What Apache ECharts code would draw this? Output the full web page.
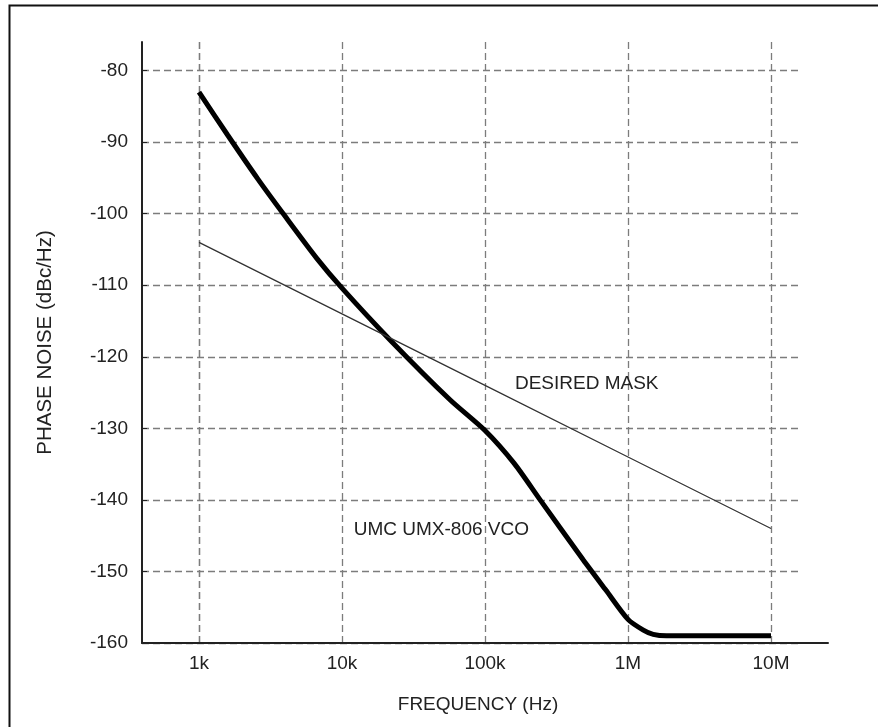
<!DOCTYPE html>
<html><head><meta charset="utf-8">
<script src="https://cdn.jsdelivr.net/npm/echarts@6/dist/echarts.min.js"></script>
<style>html,body{margin:0;padding:0;background:#fff}#c{width:878px;height:727px}</style>
</head><body><div id="c"></div>
<script>
// ---- data ----
const xTickValues = [1e3, 1e4, 1e5, 1e6, 1e7];
const xTickLabels = ['1k', '10k', '100k', '1M', '10M'];
const yMin = -160, yMax = -76, yStep = 10;
const vcoFreq  = [1000, 1585, 2590, 3981, 6640, 10000, 21600, 56900, 100000, 160000, 243000, 487000, 700000, 1000000, 1280000, 1500000, 1860000, 3000000, 10000000];
const vcoNoise = [-83.0, -89.0, -95.2, -100.3, -106.2, -110.4, -117.6, -126.0, -130.3, -134.9, -140.0, -148.4, -152.6, -156.7, -158.2, -158.8, -159.0, -159.0, -159.0];
const maskFreq  = [1000, 10000, 100000, 1000000, 10000000];
const maskNoise = [-104, -114, -124, -134, -144];
const annoText = ['DESIRED MASK', 'UMC UMX-806 VCO'];
const annoFreq = [162000, 203000];
const annoNoise = [-123.7, -144.2];

const FONT = '"Liberation Sans", Arial, sans-serif';
const TXT = '#222';
const chart = echarts.init(document.getElementById('c'), null, {renderer: 'canvas'});
const dash = {type: [7, 4], color: '#7c7c7c', width: 1.3};

chart.setOption({
  animation: false,
  backgroundColor: '#fff',
  graphic: [{
    type: 'rect', left: 7, top: 3, shape: {width: 900, height: 800},
    style: {fill: 'none', stroke: '#111', lineWidth: 2}, silent: true
  }],
  grid: [
    {left: 142, right: 78, top: 42, bottom: 84},
    {left: 199, right: 107, top: 42, bottom: 84},
    {left: 142, right: 50, top: 42, bottom: 84}
  ],
  xAxis: [
    {gridIndex: 0, type: 'value', min: 0, max: 1,
     axisLine: {show: false}, axisTick: {show: false}, axisLabel: {show: false}, splitLine: {show: false},
     name: 'FREQUENCY (Hz)', nameLocation: 'middle', nameGap: 52,
     nameTextStyle: {fontFamily: FONT, fontSize: 19, color: TXT, padding: [0, 0, 0, 14]}},
    {gridIndex: 1, type: 'log', logBase: 10, min: xTickValues[0], max: xTickValues[xTickValues.length - 1],
     axisLine: {show: false}, axisTick: {show: false},
     axisLabel: {fontFamily: FONT, fontSize: 19, color: TXT, margin: 11,
       formatter: v => { const i = xTickValues.findIndex(t => Math.abs(Math.log10(t) - Math.log10(v)) < 1e-6); return i >= 0 ? xTickLabels[i] : ''; }},
     splitLine: {show: true, lineStyle: dash}},
    {gridIndex: 2, type: 'value', min: 0, max: 1,
     axisLine: {show: true, lineStyle: {color: '#222', width: 2}}, axisTick: {show: false},
     axisLabel: {show: false}, splitLine: {show: false}}
  ],
  yAxis: [
    {gridIndex: 0, type: 'value', min: yMin, max: yMax, interval: yStep,
     axisLine: {show: true, lineStyle: {color: '#222', width: 2}},
     axisTick: {show: true, inside: true, length: 5, lineStyle: {color: '#222', width: 1}},
     axisLabel: {fontFamily: FONT, fontSize: 19, color: TXT, margin: 14, showMaxLabel: false},
     splitLine: {show: true, showMaxLine: false, lineStyle: dash},
     name: 'PHASE NOISE (dBc/Hz)', nameLocation: 'middle', nameGap: 86, nameRotate: 90,
     nameTextStyle: {fontFamily: FONT, fontSize: 20.5, color: TXT}},
    {gridIndex: 1, type: 'value', min: yMin, max: yMax, show: false},
    {gridIndex: 2, type: 'value', min: 0, max: 1, show: false}
  ],
  series: [
    {type: 'line', xAxisIndex: 1, yAxisIndex: 1, showSymbol: false, symbol: 'none',
     smooth: 0.25,
     lineStyle: {color: '#000', width: 5},
     data: vcoFreq.map((f, i) => [f, vcoNoise[i]]),
     markPoint: {symbol: 'circle', symbolSize: 0, silent: true,
       data: [{coord: [annoFreq[1], annoNoise[1]], label: {show: true, position: 'left', distance: 0, formatter: annoText[1], fontFamily: FONT, fontSize: 19, color: TXT}}]}},
    {type: 'line', xAxisIndex: 1, yAxisIndex: 1, showSymbol: false, symbol: 'none',
     lineStyle: {color: '#333', width: 1.3},
     data: maskFreq.map((f, i) => [f, maskNoise[i]]),
     markPoint: {symbol: 'circle', symbolSize: 0, silent: true,
       data: [{coord: [annoFreq[0], annoNoise[0]], label: {show: true, position: 'right', distance: 0, formatter: annoText[0], fontFamily: FONT, fontSize: 19, color: TXT}}]}}
  ]
});
</script></body></html>
